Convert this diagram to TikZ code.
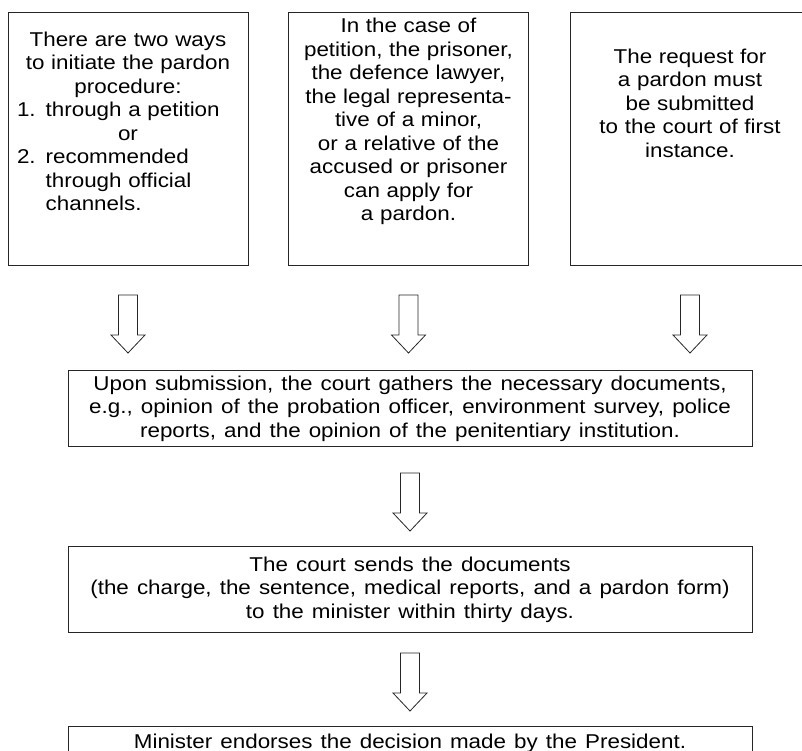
\documentclass[tikz,border=0pt]{standalone}
\usepackage{fontspec}
\setmainfont{Liberation Sans}[FakeStretch=1.12, WordSpace=1.3]
\usetikzlibrary{calc}

\tikzset{
  box/.style={draw=black!85, line width=1pt, anchor=north, align=center, inner sep=0pt,
    font=\fontsize{20pt}{23.5pt}\selectfont},
  topbox/.style={box, text width=222pt, minimum width=240pt, minimum height=253pt},
  widebox/.style={box, minimum width=684pt},
  blockarrow/.style={draw=black!85, line width=0.8pt, to path={let \p1=(\tikztostart), \p2=(\tikztotarget) in
    (\x1-9.5pt,\y1) -- (\x1-9.5pt,\y2+18pt) -- (\x1-17pt,\y2+18pt) -- (\x1,\y2)
    -- (\x1+17pt,\y2+18pt) -- (\x1+9.5pt,\y2+18pt) -- (\x1+9.5pt,\y1) -- cycle}}
}

\begin{document}
\begin{tikzpicture}[x=1pt, y=-1pt]
  \useasboundingbox (0,0) rectangle (802,751);

  % the three ways in
  \node[topbox] (ways) at (128,12) {There are two ways\\
    to initiate the pardon\\
    procedure:\\
    \makebox[\hsize][l]{1. through a petition}\\
    or\\
    \makebox[\hsize][l]{2. recommended}\\
    \makebox[\hsize][l]{\phantom{2. }through official}\\
    \makebox[\hsize][l]{\phantom{2. }channels.}\\[12pt]\mbox{}};
  \node[topbox] (who) at (408.5,12) {In the case of\\
    petition, the prisoner,\\
    the defence lawyer,\\
    the legal representa-\\
    tive of a minor,\\
    or a relative of the\\
    accused or prisoner\\
    can apply for\\
    a pardon.\\[15pt]\mbox{}};
  \node[topbox] (where) at (690,12) {The request for\\
    a pardon must\\
    be submitted\\
    to the court of first\\
    instance.\\[48pt]\mbox{}};

  % the steps below
  \node[widebox, minimum height=76pt] (gather) at (410,370) {Upon submission, the court gathers the necessary documents,\\
    e.g., opinion of the probation officer, environment survey, police\\
    reports, and the opinion of the penitentiary institution.};
  \node[widebox, minimum height=86pt] (sends) at (410,546) {The court sends the documents\\
    (the charge, the sentence, medical reports, and a pardon form)\\
    to the minister within thirty days.};
  \node[widebox, minimum height=33pt] (endorse) at (410,726) {Minister endorses the decision made by the President.};

  \draw[blockarrow] ([yshift=-29pt]ways.south) to ([yshift=17pt]ways.south |- gather.north);
  \draw[blockarrow] ([yshift=-29pt]who.south) to ([yshift=17pt]who.south |- gather.north);
  \draw[blockarrow] ([yshift=-29pt]where.south) to ([yshift=17pt]where.south |- gather.north);
  \draw[blockarrow] ([yshift=-26pt]gather.south) to ([yshift=15pt]sends.north);
  \draw[blockarrow] ([yshift=-20pt]sends.south) to ([yshift=15pt]endorse.north);
\end{tikzpicture}
\end{document}
